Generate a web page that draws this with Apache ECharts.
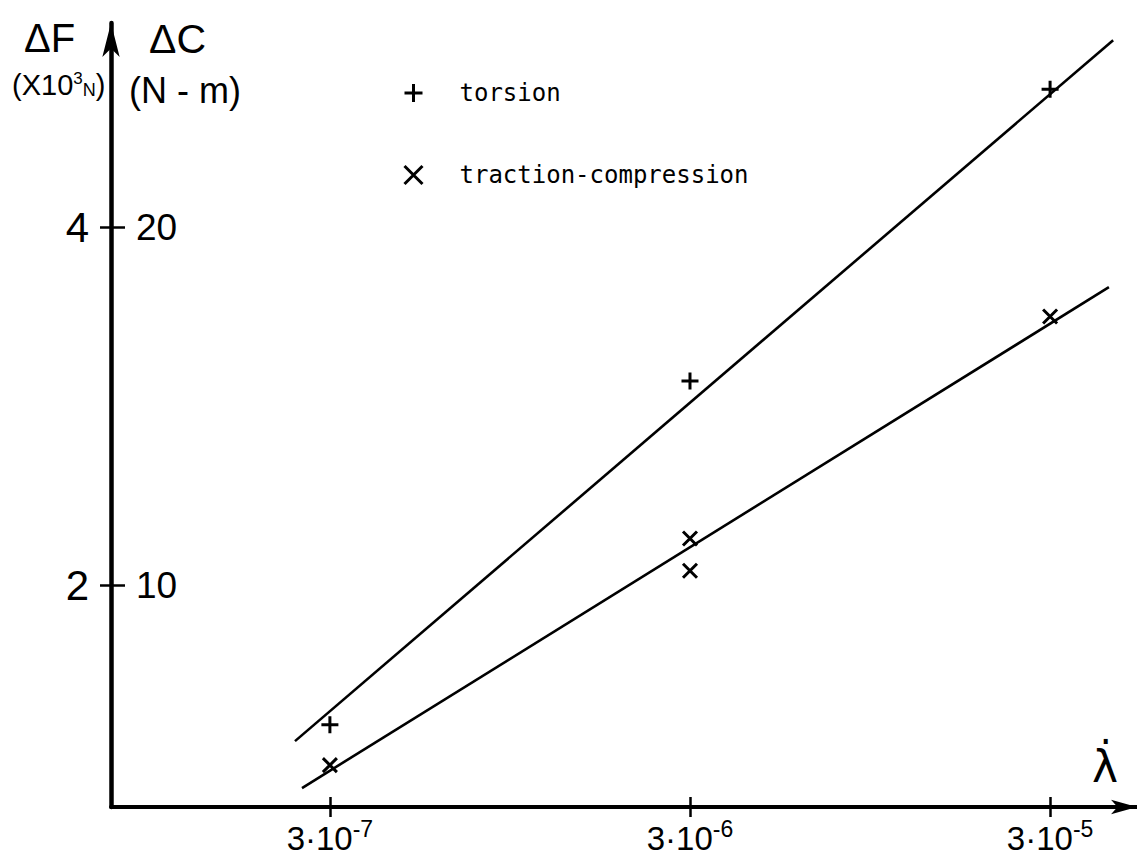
<!DOCTYPE html>
<html>
<head>
<meta charset="utf-8">
<script src="https://cdn.jsdelivr.net/npm/echarts@6/dist/echarts.min.js"></script>
<style>
html, body { margin: 0; padding: 0; background: #fff; }
#container { width: 1137px; height: 864px; }
</style>
</head>
<body>
<div id="container"></div>
<script>
// measured points (lambda-dot, Delta C in N-m)
var torsionLambda = [3e-7, 3e-6, 3e-5];
var torsionDC = [6.1, 15.7, 23.85];
var tractionLambda = [3e-7, 3e-6, 3e-6, 3e-5];
var tractionDC = [4.97, 11.3, 10.4, 17.5];
// hand drawn fit lines (end points)
var torsionFitLambda = [2.4e-7, 4.49e-5];
var torsionFitDC = [5.64, 25.22];
var tractionFitLambda = [2.51e-7, 4.37e-5];
var tractionFitDC = [4.33, 18.32];
// ticks
var xTicks = [3e-7, 3e-6, 3e-5];
var xTickBase = ['3·10', '3·10', '3·10'];
var xTickExp = ['-7', '-6', '-5'];
var dcTicks = [10, 20];
var dfTicks = [2, 4];
var xRange = [7.4e-8, 5.23e-5];
var dcRange = [3.8, 25.7];

var font = '"Liberation Sans", Arial, sans-serif';
var mono = '"DejaVu Sans Mono", "Liberation Mono", monospace';
var plusPath = 'path://M0,5L10,5M5,0L5,10';
var crossPath = 'path://M0,0L10,10M10,0L0,10';

function pts(xs, ys) {
    return xs.map(function (x, i) { return [Math.log10(x), ys[i]]; });
}
var xTickPos = xTicks.map(function (v) { return Math.log10(v); });

var chart = echarts.init(document.getElementById('container'), null, {renderer: 'svg'});

var markerStyle = {color: 'transparent', borderColor: '#000', borderWidth: 3, opacity: 1};

option = {
    animation: false,
    grid: [
        {left: 111, right: 0, top: 23, bottom: 57},
        {left: 111, right: 0, top: 23, bottom: 57}
    ],
    legend: {
        orient: 'vertical',
        left: 398,
        top: 76,
        itemGap: 58,
        itemWidth: 18,
        itemHeight: 18,
        selectedMode: false,
        data: [
            {name: 'torsion', icon: plusPath},
            {name: 'traction-compression', icon: crossPath}
        ],
        itemStyle: markerStyle,
        textStyle: {fontFamily: mono, fontSize: 24, color: '#000', padding: [0, 0, 0, 32]}
    },
    xAxis: [
        {   // main lambda axis, log scale drawn as log10
            type: 'value', gridIndex: 0,
            min: Math.log10(xRange[0]), max: Math.log10(xRange[1]),
            axisLine: {lineStyle: {color: '#000', width: 4}, symbol: ['none', 'arrow'], symbolSize: [11, 26]},
            axisTick: {show: true, length: 10, customValues: xTickPos, lineStyle: {color: '#000', width: 2.5}},
            axisLabel: {
                customValues: xTickPos, margin: 10,
                formatter: function (v) {
                    var i = xTickPos.findIndex(function (p) { return Math.abs(p - v) < 1e-6; });
                    return '{b|' + xTickBase[i] + '}{s|' + xTickExp[i] + '}';
                },
                rich: {
                    b: {fontFamily: font, fontSize: 33, color: '#000', verticalAlign: 'bottom', lineHeight: 38},
                    s: {fontFamily: font, fontSize: 23, color: '#000', verticalAlign: 'top', lineHeight: 20}
                }
            },
            splitLine: {show: false}
        },
        {
            type: 'value', gridIndex: 1,
            min: Math.log10(xRange[0]), max: Math.log10(xRange[1]),
            axisLine: {show: false},
            axisTick: {show: true, inside: true, length: 10, customValues: xTickPos, lineStyle: {color: '#000', width: 2.5}},
            axisLabel: {show: false},
            splitLine: {show: false}
        }
    ],
    yAxis: [
        {   // Delta C (N-m)
            type: 'value', gridIndex: 0,
            min: dcRange[0], max: dcRange[1],
            axisLine: {show: true, lineStyle: {color: '#000', width: 4.5}, symbol: ['none', 'arrow'], symbolSize: [13, 34]},
            axisTick: {show: true, inside: true, length: 14, customValues: dcTicks, lineStyle: {color: '#000', width: 2.5}},
            axisLabel: {inside: true, margin: 25, customValues: dcTicks, fontFamily: font, fontSize: 37, color: '#000'},
            splitLine: {show: false}
        },
        {   // Delta F (x10^3 N)
            type: 'value', gridIndex: 1,
            min: dcRange[0] / 5, max: dcRange[1] / 5,
            axisLine: {show: false},
            axisTick: {show: true, length: 11, customValues: dfTicks, lineStyle: {color: '#000', width: 2.5}},
            axisLabel: {margin: 22, customValues: dfTicks, fontFamily: font, fontSize: 42, color: '#000'},
            splitLine: {show: false}
        }
    ],
    graphic: [
        {type: 'text', left: 24, top: 18, style: {text: 'ΔF', font: '40px ' + font, fill: '#000'}},
        {type: 'text', left: 149, top: 18, style: {text: 'ΔC', font: '41px ' + font, fill: '#000'}},
        {type: 'text', left: 12, top: 70, style: {
            text: '(X10{s|3}{n|N})', fontFamily: font, fontSize: 29, fill: '#000',
            rich: {s: {fontFamily: font, fontSize: 17, verticalAlign: 'top', lineHeight: 17},
                   n: {fontFamily: font, fontSize: 18, verticalAlign: 'bottom', lineHeight: 18}}
        }},
        {type: 'text', left: 129, top: 72, style: {text: '(N - m)', font: '36px ' + font, fill: '#000'}},
        {type: 'text', left: 1092, top: 744, style: {text: 'λ̇', font: '44px "DejaVu Sans", sans-serif', fill: '#000'}}
    ],
    series: [
        {
            name: 'torsion', type: 'scatter', xAxisIndex: 0, yAxisIndex: 0,
            symbol: plusPath, symbolSize: 17, itemStyle: markerStyle,
            emphasis: {disabled: true}, silent: true,
            data: pts(torsionLambda, torsionDC)
        },
        {
            name: 'traction-compression', type: 'scatter', xAxisIndex: 0, yAxisIndex: 0,
            symbol: crossPath, symbolSize: 14, itemStyle: markerStyle,
            emphasis: {disabled: true}, silent: true,
            data: pts(tractionLambda, tractionDC)
        },
        {
            name: 'torsion fit', type: 'line', xAxisIndex: 0, yAxisIndex: 0,
            showSymbol: false, silent: true,
            lineStyle: {color: '#000', width: 2.6},
            data: pts(torsionFitLambda, torsionFitDC)
        },
        {
            name: 'traction fit', type: 'line', xAxisIndex: 0, yAxisIndex: 0,
            showSymbol: false, silent: true,
            lineStyle: {color: '#000', width: 2.6},
            data: pts(tractionFitLambda, tractionFitDC)
        }
    ]
};

chart.setOption(option);
</script>
</body>
</html>
